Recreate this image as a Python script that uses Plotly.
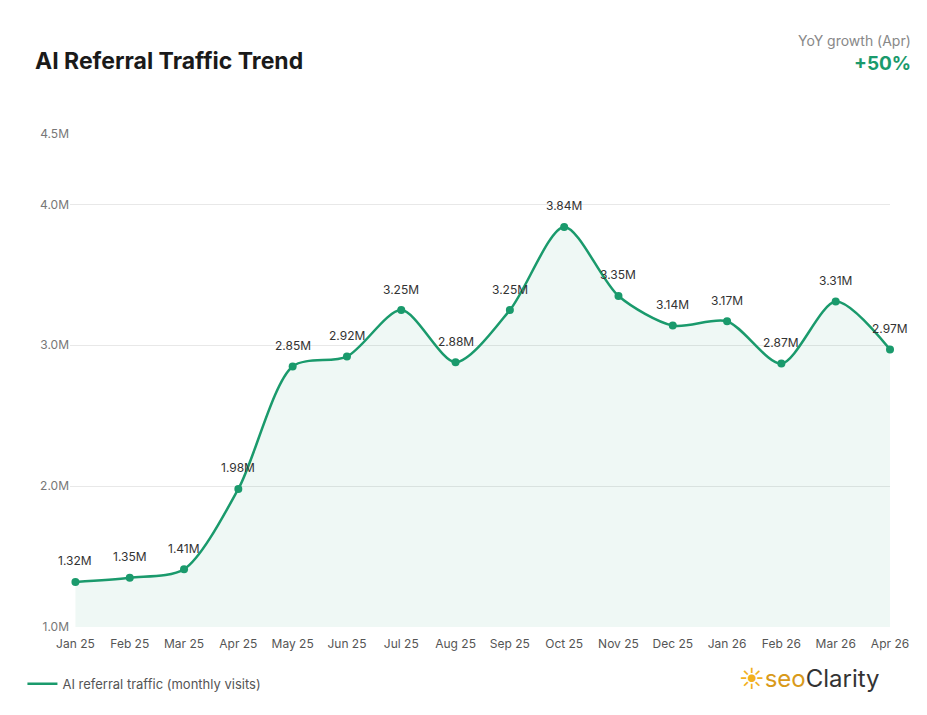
import plotly.graph_objects as go

months = ["Jan 25","Feb 25","Mar 25","Apr 25","May 25","Jun 25","Jul 25","Aug 25",
          "Sep 25","Oct 25","Nov 25","Dec 25","Jan 26","Feb 26","Mar 26","Apr 26"]
visits_m = [1.32,1.35,1.41,1.98,2.85,2.92,3.25,2.88,3.25,3.84,3.35,3.14,3.17,2.87,3.31,2.97]
labels = [f"{v:.2f}M" for v in visits_m]
y_ticks = [1.0,2.0,3.0,4.0,4.5]
y_tick_labels = ["1.0M","2.0M","3.0M","4.0M","4.5M"]

green = "#1a9a6c"
xs = list(range(len(months)))
fig = go.Figure()
fig.add_trace(go.Scatter(
    x=xs, y=visits_m, mode="lines+markers",
    line=dict(color=green, width=2.5, shape="spline", smoothing=0.8),
    marker=dict(color=green, size=8),
    fill="tozeroy", fillcolor="rgba(26,154,108,0.07)",
    showlegend=False, cliponaxis=False))
fig.add_trace(go.Scatter(x=[None], y=[None], mode="lines",
    line=dict(color=green, width=2.5), name="AI referral traffic (monthly visits)"))

anns = [dict(x=x, y=v, text=t, showarrow=False, yshift=21, xref="x", yref="y",
             font=dict(size=12, color="#333")) for x, v, t in zip(xs, visits_m, labels)]

fig.update_layout(
    width=927, height=715, paper_bgcolor="white", plot_bgcolor="white",
    margin=dict(l=62, r=45, t=126, b=96),
    font=dict(family="Inter", color="#666"),
    xaxis=dict(tickvals=xs, ticktext=months, range=[-0.1,15.0],
               showgrid=False, zeroline=False, showline=False,
               tickfont=dict(size=12, color="#555"), ticks="", ticklabelstandoff=8),
    yaxis=dict(range=[1.0,4.5], tickvals=y_ticks, ticktext=y_tick_labels,
               gridcolor="#e8e8e8", zeroline=False, showline=False,
               tickfont=dict(size=12, color="#777"), ticks=""),
    showlegend=True,
    legend=dict(orientation="h", x=-0.058, y=-0.085, xanchor="left", yanchor="top",
                font=dict(size=13, color="#555")),
    annotations=anns + [
        dict(text="<b>AI Referral Traffic Trend</b>", xref="paper", yref="paper",
             x=-0.045, y=1.149, xanchor="left", yanchor="middle", showarrow=False,
             font=dict(size=23, color="#1a1a1a")),
        dict(text="YoY growth (Apr)", xref="paper", yref="paper", x=1.028, y=1.189,
             xanchor="right", yanchor="middle", showarrow=False,
             font=dict(size=14, color="#888")),
        dict(text="<b>+50%</b>", xref="paper", yref="paper", x=1.028, y=1.142,
             xanchor="right", yanchor="middle", showarrow=False,
             font=dict(size=19, color=green)),
        dict(text="<span style='color:#f2b01e'>☀</span><span style='color:#d99a1a'>seo</span><span style='color:#333'>Clarity</span>",
             xref="paper", yref="paper", x=0.99, y=-0.105, xanchor="right", yanchor="middle",
             showarrow=False, font=dict(size=24)),
    ])
fig.write_html("out.html")
